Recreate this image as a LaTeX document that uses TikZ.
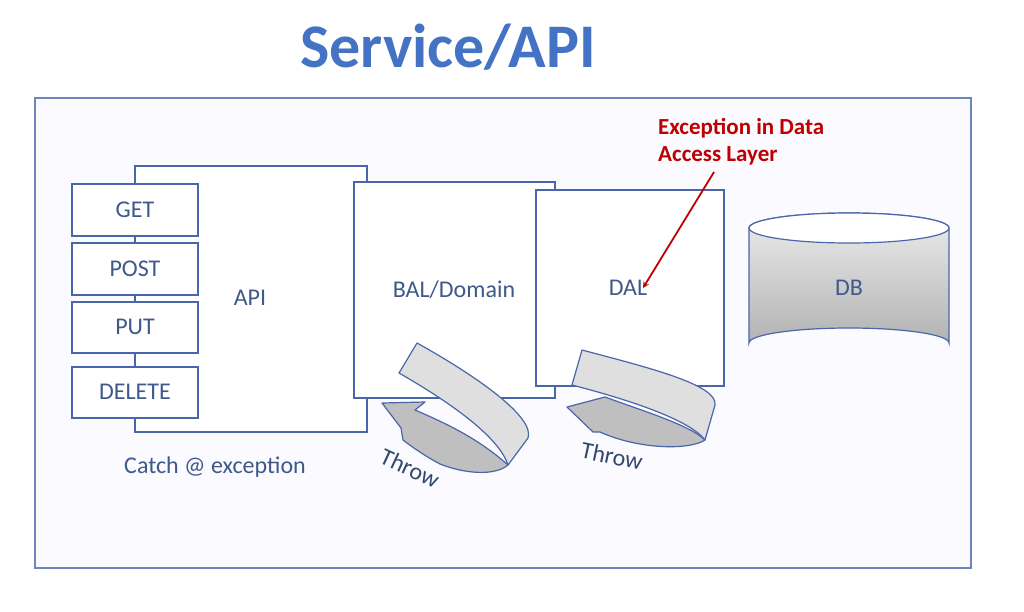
\documentclass[tikz,border=0pt]{standalone}
\usepackage{fontspec}
\setmainfont{Carlito}
\usetikzlibrary{shapes.geometric}
\definecolor{ttl}{HTML}{4472C4}
\definecolor{edge}{HTML}{4A66AA}
\definecolor{txt}{HTML}{3F5A8A}
\begin{document}
\begin{tikzpicture}[x=1pt,y=-1pt,
  box/.style={draw=edge,line width=1.2pt,fill=white},
  lbl/.style={text=txt,font=\fontsize{24}{28}\selectfont},
  band/.style={draw=edge,line width=1.2pt,fill=gray!25,line join=round},
  shade/.style={draw=edge,line width=1.2pt,fill=gray!50,line join=round}]
\useasboundingbox (0,0) rectangle (1024,611);
\node[text=ttl,font=\bfseries\fontsize{62}{70}\selectfont] (title) at (448,47) {Service/API};
\draw[draw=edge!80,line width=1.2pt,fill=blue!2] (35,98) rectangle (971,568);
% API
\draw[box] (135,166) rectangle (367,432);
\node[lbl] (api) at (250,298) {API};
\foreach \n/\t/\b in {get/184/236,post/243/295,put/302/353,delete/367/418}{
  \draw[box] (72,\t) rectangle (198,\b);
}
\node[lbl] (get) at (135,210) {GET};
\node[lbl] (post) at (135,269) {POST};
\node[lbl] (put) at (135,327) {PUT};
\node[lbl] (delete) at (135,392) {DELETE};
\node[lbl] (catch) at (215,467) {Catch @ exception};
% BAL
\draw[box] (354,182) rectangle (555,398);
\node[lbl] (bal) at (454,290) {BAL/Domain};
% DAL
\draw[box] (536,190) rectangle (724,386);
\node[lbl] (dal) at (628,288) {DAL};
% DB
\draw[draw=edge,line width=1.2pt,top color=gray!15,bottom color=gray!60]
  (749,228) -- (749,343) arc[start angle=180,end angle=360,x radius=100,y radius=15]
  -- (949,228) arc[start angle=0,end angle=180,x radius=100,y radius=-15] -- cycle;
\draw[draw=edge,line width=1.2pt,fill=white] (849,228) ellipse[x radius=100,y radius=15];
\node[lbl] (db) at (849,288) {DB};
% red annotation
\node[text=red!75!black,font=\bfseries\fontsize{23}{27}\selectfont,align=left,anchor=north west,inner sep=0pt] (exc) at (658,118) {Exception in Data\\Access Layer};
\coordinate (exctail) at (714,172);
\coordinate (exchead) at (643,288);
\draw[red!75!black,line width=1.8pt,-stealth] (exctail) -- (exchead);
% throw arrows
\draw[shade] (382,403) -- (425,402) -- (415,410) .. controls (450,425) and (480,440) .. (508,465)
  .. controls (495,476) and (465,474) .. (440,464) .. controls (425,456) and (412,447) .. (403,440) -- (401,428) -- cycle;
\draw[band] (417,343) .. controls (480,378) and (535,418) .. (528,438) -- (508,465)
  .. controls (500,440) and (460,408) .. (399,373) -- cycle;
\draw[shade] (567,407) -- (605,397) .. controls (640,410) and (690,425) .. (705,440)
  .. controls (690,450) and (640,450) .. (600,432) -- (593,432) -- cycle;
\draw[band] (582,350) .. controls (650,368) and (718,385) .. (715,405) -- (705,440)
  .. controls (690,420) and (630,400) .. (572,385) -- cycle;
\node[lbl,text=txt!80!black,rotate=-25] (throw1) at (410,468) {Throw};
\node[lbl,text=txt!80!black,rotate=-12] (throw2) at (612,456) {Throw};
\end{tikzpicture}
\end{document}
